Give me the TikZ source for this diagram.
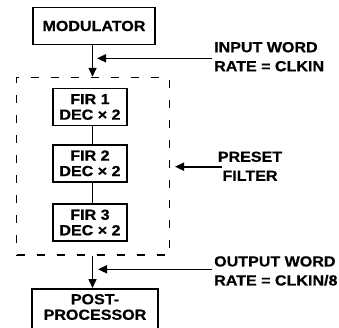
\documentclass[tikz,border=0pt]{standalone}
\usepackage{fontspec}
\setmainfont{Liberation Sans}[FakeStretch=1.1,FakeBold=0.6]
\usetikzlibrary{arrows.meta}
\begin{document}
\begin{tikzpicture}[x=1pt,y=-1pt,
  font=\bfseries\fontsize{14.6}{15.5}\selectfont,
  box/.style={draw, line width=1.8pt, inner sep=0pt, align=center},
  conn/.style={line width=1.5pt},
  arr/.style={line width=1.6pt, -{Triangle[length=9pt,width=8pt]}},
  lbl/.style={inner sep=0pt, font=\bfseries\fontsize{14.6}{19}\selectfont},
  frame/.style={draw, line width=1.5pt, dash pattern=on 8pt off 12pt, inner sep=0pt}]
\path[use as bounding box, clip] (0,0) rectangle (339,327);
\coordinate (sp) at (92.5,0);
\node[box, minimum width=122pt, minimum height=37pt] (mod) at (94,26) {MODULATOR};
\node[frame, minimum width=152.6pt, minimum height=177.5pt] (preset) at (93,166.25) {};
\node[box, minimum width=74.3pt, minimum height=37pt] (fir1) at (90,107) {FIR 1\\DEC × 2};
\node[box, minimum width=74.3pt, minimum height=37pt] (fir2) at (90,163.3) {FIR 2\\DEC × 2};
\node[box, minimum width=74.3pt, minimum height=37pt] (fir3) at (90,222.5) {FIR 3\\DEC × 2};
\node[box, minimum width=126pt, minimum height=44pt, anchor=north] (post) at (95,288) {};
\node[inner sep=0pt, align=center] (postlbl) at (95,307) {POST-\\PROCESSOR};
\draw[arr] (mod.south -| sp) -- (preset.north -| sp);
\draw[conn] (fir1.south -| sp) -- (fir2.north -| sp);
\draw[conn] (fir2.south -| sp) -- (fir3.north -| sp);
\draw[arr] (preset.south -| sp) -- (post.north -| sp);
\node[lbl, align=left, anchor=west] (inlbl) at (214,56.7) {INPUT WORD\\RATE = CLKIN};
\coordinate (intip) at (97,58.3);
\draw[arr, shorten <=2pt] (inlbl.west |- intip) -- (intip);
\node[lbl, align=center] (prlbl) at (250,166.2) {PRESET\\FILTER};
\coordinate (prtip) at (175,166.7);
\draw[arr, shorten <=-4pt] (prlbl.west |- prtip) -- (prtip);
\node[lbl, align=left, anchor=west] (outlbl) at (214,271) {OUTPUT WORD\\RATE = CLKIN/8};
\coordinate (outtip) at (98,269.3);
\draw[arr, shorten <=2pt] (outlbl.west |- outtip) -- (outtip);
\end{tikzpicture}
\end{document}
